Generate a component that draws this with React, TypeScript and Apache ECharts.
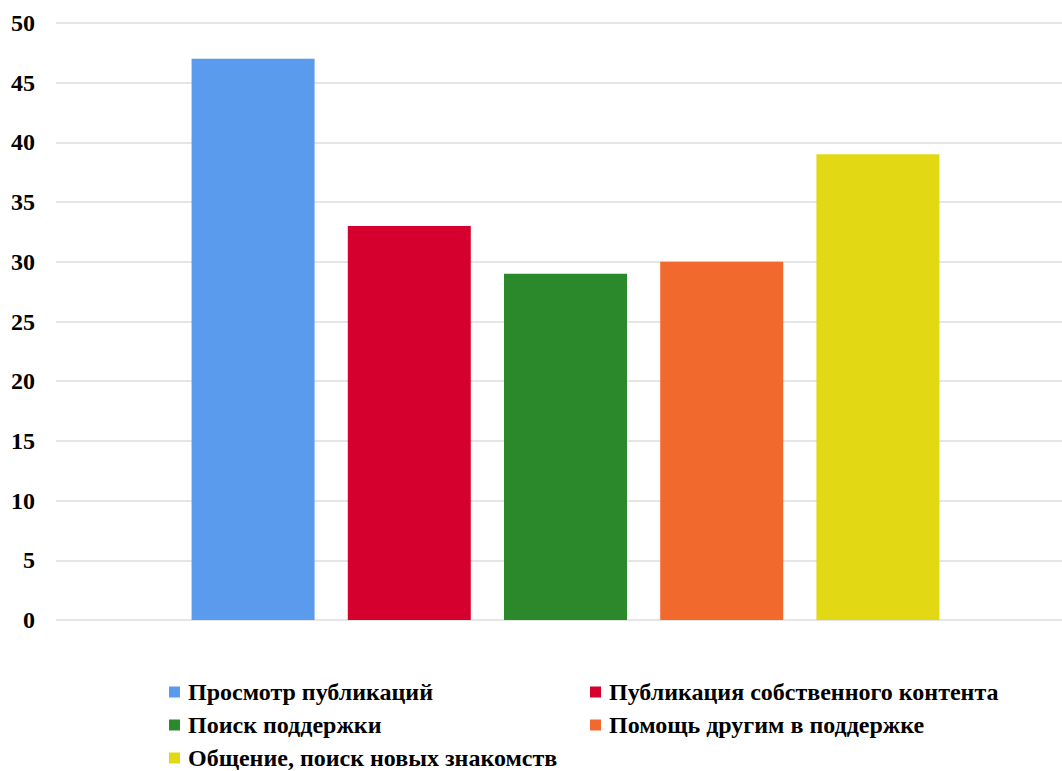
import React, { useEffect, useRef } from "react";
import * as echarts from "echarts";

const categories = [""];
const seriesNames = [
  "Просмотр публикаций",
  "Публикация собственного контента",
  "Поиск поддержки",
  "Помощь другим в поддержке",
  "Общение, поиск новых знакомств",
];
const seriesValues = [47, 33, 29, 30, 39];
const seriesColors = ["#5A9BEE", "#D6002F", "#2B882B", "#F2692E", "#E2D813"];
const yTicks = { min: 0, max: 50, interval: 5 };

const serif = "'Liberation Serif', 'Times New Roman', serif";

// legend item placement: [left, centerY]
const legendSlots: [number, number][] = [
  [169, 692],
  [590, 692],
  [169, 725],
  [590, 725],
  [169, 758],
];

export default function App() {
  const ref = useRef<HTMLDivElement>(null);
  useEffect(() => {
    if (!ref.current) return;
    const chart = echarts.init(ref.current, null, { renderer: "svg" });
    chart.setOption({
      animation: false,
      backgroundColor: "#fff",
      grid: { left: 56, top: 23, right: 0, height: 597 },
      xAxis: {
        type: "category",
        data: categories,
        axisLine: { show: false },
        axisTick: { show: false },
        axisLabel: { show: false },
      },
      yAxis: {
        type: "value",
        min: yTicks.min,
        max: yTicks.max,
        interval: yTicks.interval,
        axisLine: { show: false },
        axisTick: { show: false },
        axisLabel: {
          fontFamily: serif,
          fontWeight: "bold",
          fontSize: 24,
          color: "#000",
          margin: 21,
        },
        splitLine: { lineStyle: { color: "#DCDCDC", width: 1.5 } },
      },
      legend: seriesNames.map((name, i) => ({
        orient: "horizontal",
        icon: "rect",
        itemWidth: 11,
        itemHeight: 11,
        selectedMode: false,
        left: legendSlots[i][0],
        top: legendSlots[i][1] - 12,
        padding: 0,
        data: [name],
        textStyle: {
          fontFamily: serif,
          fontWeight: "bold",
          fontSize: 24,
          lineHeight: 24,
          color: "#000",
          padding: [0, 0, 0, 3],
        },
      })),
      series: seriesNames.map((name, i) => ({
        name,
        type: "bar",
        data: [seriesValues[i]],
        barWidth: 123,
        barGap: "27%",
        itemStyle: { color: seriesColors[i] },
      })),
    });
    return () => chart.dispose();
  }, []);
  return (
    <div style={{ position: "fixed", left: 0, top: 0, width: 1062, height: 771, overflow: "hidden", background: "#fff" }}>
      <div ref={ref} style={{ width: 1075, height: 771 }} />
    </div>
  );
}
